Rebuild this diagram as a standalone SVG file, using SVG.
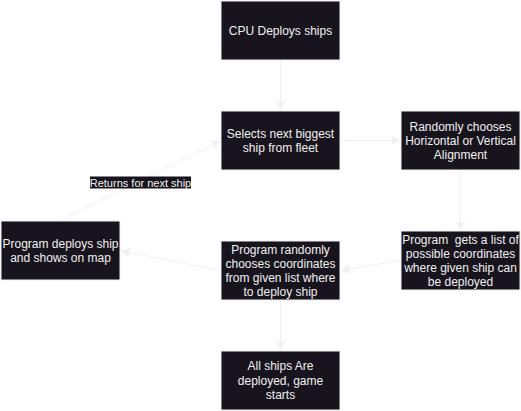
<svg xmlns="http://www.w3.org/2000/svg" width="521" height="411" viewBox="0 0 521 411">
  <style>
    .box { fill: #18141d; stroke: #f0f0f0; stroke-width: 1; }
    .t { font-family: "Liberation Sans", Arial, sans-serif; font-size: 12px; fill: #f0f0f0; text-anchor: middle; white-space: pre; }
    .lbl { font-family: "Liberation Sans", Arial, sans-serif; font-size: 11px; fill: #f0f0f0; text-anchor: middle; }
    .edge { fill: none; stroke: #f0f0f0; stroke-width: 1; marker-end: url(#arr); }
  </style>
  <defs>
    <marker id="arr" markerUnits="userSpaceOnUse" markerWidth="10" markerHeight="10" viewBox="0 0 8 8" refX="7" refY="4" orient="auto">
      <path d="M0,0.5 L7,4 L0,7.5 L1.75,4 Z" fill="#f0f0f0" stroke="#f0f0f0" stroke-width="0.5"/>
    </marker>
  </defs>
  <rect width="521" height="411" fill="#ffffff"/>
  <g id="connectors">
    <line class="edge" x1="280.5" y1="60.5" x2="280.5" y2="110"/>
    <line class="edge" x1="340.5" y1="140.5" x2="400" y2="140.5"/>
    <line class="edge" x1="460.5" y1="170.5" x2="460.5" y2="230"/>
    <line class="edge" x1="400.5" y1="260.5" x2="341.5" y2="270.3"/>
    <line class="edge" x1="220.5" y1="270.5" x2="121.5" y2="250.8"/>
    <line class="edge" x1="60.5" y1="220.5" x2="220" y2="141"/>
    <line class="edge" x1="280.5" y1="300.5" x2="280.5" y2="350"/>
    <g id="edge-label">
      <rect x="90" y="176.5" width="101" height="12" fill="#18141d"/>
      <text class="lbl" x="140.5" y="186.5">Returns for next ship</text>
    </g>
  </g>
  <g id="n-cpu">
    <rect class="box" x="221" y="1" width="119" height="59"/>
    <text class="t" x="280.5" y="34.5">CPU Deploys ships</text>
  </g>
  <g id="n-select">
    <rect class="box" x="221" y="111" width="119" height="59"/>
    <text class="t" x="280.5" y="137.5">Selects next biggest</text>
    <text class="t" x="280.5" y="152">ship from fleet</text>
  </g>
  <g id="n-align">
    <rect class="box" x="401" y="111" width="119" height="59"/>
    <text class="t" x="460.5" y="130.5">Randomly chooses</text>
    <text class="t" x="460.5" y="144.5">Horizontal or Vertical</text>
    <text class="t" x="460.5" y="158.5">Alignment</text>
  </g>
  <g id="n-coords">
    <rect class="box" x="401" y="231" width="119" height="59"/>
    <text class="t" x="460.5" y="243.5">Program  gets a list of</text>
    <text class="t" x="460.5" y="257.5">possible coordinates</text>
    <text class="t" x="460.5" y="271.5">where given ship can</text>
    <text class="t" x="460.5" y="285.5">be deployed</text>
  </g>
  <g id="n-choose">
    <rect class="box" x="221" y="241" width="119" height="59"/>
    <text class="t" x="280.5" y="253.5">Program randomly</text>
    <text class="t" x="280.5" y="267.5">chooses coordinates</text>
    <text class="t" x="280.5" y="281.5">from given list where</text>
    <text class="t" x="280.5" y="295.5">to deploy ship</text>
  </g>
  <g id="n-deploy">
    <rect class="box" x="1" y="221" width="119" height="59"/>
    <text class="t" x="60.5" y="247.5">Program deploys ship</text>
    <text class="t" x="60.5" y="262">and shows on map</text>
  </g>
  <g id="n-done">
    <rect class="box" x="221" y="351" width="119" height="59"/>
    <text class="t" x="280.5" y="370">All ships Are</text>
    <text class="t" x="280.5" y="384.5">deployed, game</text>
    <text class="t" x="280.5" y="398.5">starts</text>
  </g>
</svg>
